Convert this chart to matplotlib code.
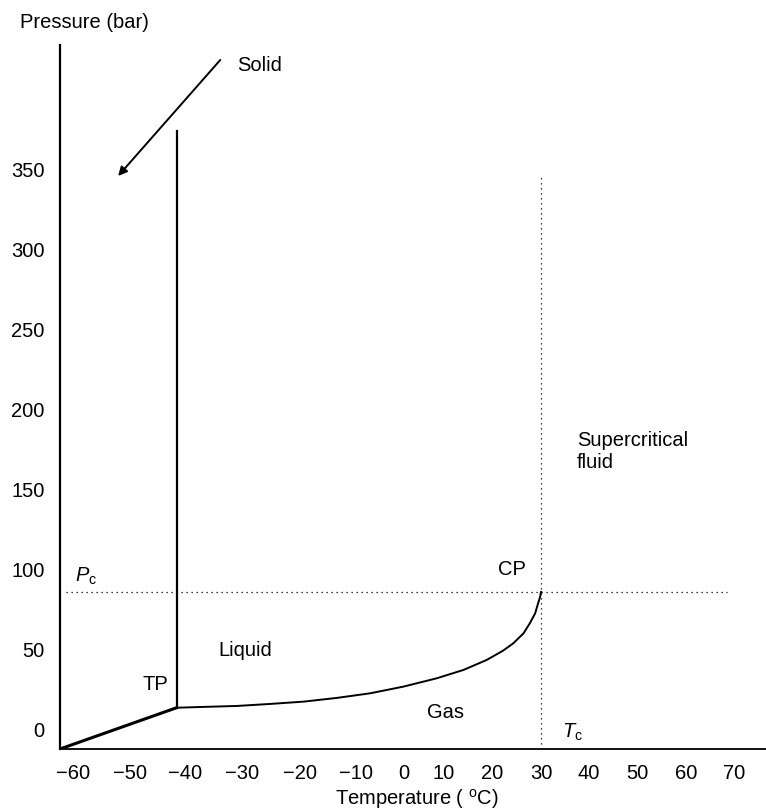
import numpy as np
import matplotlib
matplotlib.use('Agg')
import matplotlib.pyplot as plt

plt.rcParams['font.family'] = ['Liberation Sans', 'DejaVu Sans']
plt.rcParams['mathtext.fontset'] = 'custom'
plt.rcParams['mathtext.rm'] = 'Liberation Sans'
plt.rcParams['mathtext.it'] = 'Liberation Sans:italic'

# tick labels and where the printed figure puts them (uneven spacing)
x_ticks = [-60, -50, -40, -30, -20, -10, 0, 10, 20, 30, 40, 50, 60, 70]
x_tick_pos = [73.5, 130, 185.5, 242.5, 299.5, 355.5, 404, 444, 492.5, 541, 589, 637.5, 686, 734]
y_ticks = [0, 50, 100, 150, 200, 250, 300, 350]

# phase boundaries (temperature in C, pressure in bar)
sub_T = [-62.4, -41.6]
sub_P = [-11.9, 13.9]
melt_T = [-41.6, -41.6]
melt_P = [13.9, 374.4]
vap_T = [-41.6, -36.9, -31.0, -25.2, -19.3, -13.4, -7.0, -0.1, 8.2, 14.0,
         18.8, 22.2, 24.3, 26.4, 27.7, 28.8, 29.4, 29.8, 30.0]
vap_P = [13.9, 14.4, 15.0, 16.25, 17.7, 20.0, 22.9, 27.1, 32.3, 37.5,
         43.75, 49.6, 54.2, 60.4, 66.7, 72.9, 79.2, 83.0, 86.25]
Tc = 30.0
Pc = 86.25
Tc_top = 347.0
Pc_line_T = [-61.3, 68.5]

anchor_T = np.array([-100] + x_ticks + [110], dtype=float)
anchor_px = np.array([73.5 - 4 * 56.5] + x_tick_pos + [734 + 4 * 48.5], dtype=float)


def fwd(x):
    return np.interp(x, anchor_T, anchor_px)


def inv(p):
    return np.interp(p, anchor_px, anchor_T)


def run():
    fig = plt.figure(figsize=(7.66, 8.10), dpi=100)
    ax = fig.add_axes([60 / 766, (810 - 749) / 810, (766 - 60) / 766, (749 - 45) / 810])
    ax.set_xscale('function', functions=(fwd, inv))
    ax.set_xlim(inv(60), inv(766))
    ax.set_ylim(-11.9, 428.1)

    ax.spines['top'].set_visible(False)
    ax.spines['right'].set_visible(False)
    ax.spines['left'].set_linewidth(1.6)
    ax.spines['bottom'].set_linewidth(1.3)

    fs = 14.5
    ax.set_xticks(x_ticks)
    ax.set_xticklabels([str(t).replace('-', '\u2212') for t in x_ticks])
    ax.set_yticks(y_ticks)
    ax.tick_params(length=0, labelsize=fs)
    ax.tick_params(axis='x', pad=11)
    ax.tick_params(axis='y', pad=11)

    ax.plot(sub_T, sub_P, color='black', lw=2.2, solid_capstyle='butt')
    ax.plot(melt_T, melt_P, color='black', lw=1.6)
    ax.plot(vap_T, vap_P, color='black', lw=1.4)
    ax.plot([Tc, Tc], [-11.9, Tc_top], color='black', lw=0.9, linestyle=(0, (1, 3)))
    ax.plot(Pc_line_T, [Pc, Pc], color='black', lw=0.9, linestyle=(0, (1, 3)))

    ax.annotate('', xy=(-52.1, 346.25), xytext=(-33.9, 418.75),
                arrowprops=dict(arrowstyle='-|>', color='black', lw=1.4,
                                mutation_scale=13, shrinkA=0, shrinkB=0))

    ax.text(-31.0, 415, 'Solid', fontsize=fs, va='center', ha='left')
    ax.text(-34.3, 49.4, 'Liquid', fontsize=fs, va='center', ha='left')
    ax.text(-47.7, 28.4, 'TP', fontsize=fs, va='center', ha='left')
    ax.text(5.75, 10.6, 'Gas', fontsize=fs, va='center', ha='left')
    ax.text(34.4, -1.25, r'$T_{\mathrm{c}}$', fontsize=fs, va='center', ha='left')
    ax.text(21.1, 100, 'CP', fontsize=fs, va='center', ha='left')
    ax.text(37.5, 174, 'Supercritical\nfluid', fontsize=fs, va='center', ha='left',
            linespacing=1.2)
    ax.text(-59.7, 96, r'$P_{\mathrm{c}}$', fontsize=fs, va='center', ha='left')

    fig.text(20 / 766, 1 - 23 / 810, 'Pressure (bar)', fontsize=fs, va='center', ha='left')
    fig.text(417 / 766, 1 - 805 / 810, r'Temperature ( $^{\mathrm{o}}$C)', fontsize=fs,
             va='baseline', ha='center')
    return fig


def main():
    fig = run()
    fig.savefig('out.png', dpi=100)


if __name__ == '__main__':
    main()
